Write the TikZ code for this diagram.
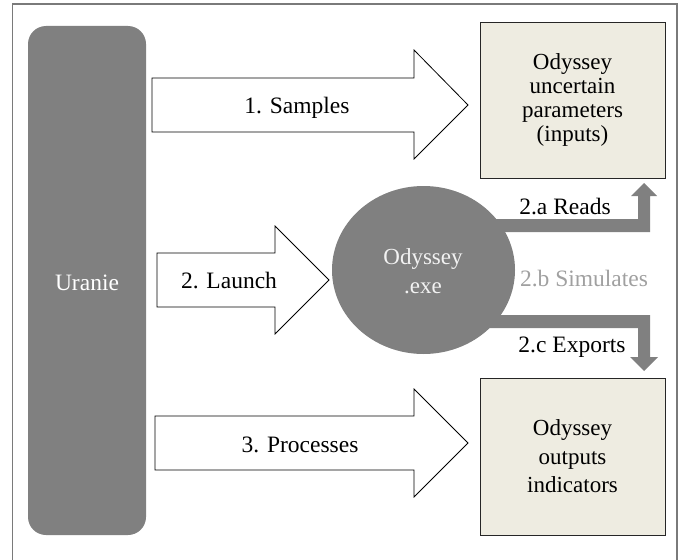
\documentclass[tikz,border=0pt]{standalone}
\usepackage{fontspec}
\setmainfont{Liberation Serif}
\usetikzlibrary{shapes.geometric}
\definecolor{ugray}{HTML}{808080}
\definecolor{boxfill}{HTML}{EEECE1}
\definecolor{framegray}{HTML}{7A7A7A}
\definecolor{simgray}{HTML}{A0A0A0}
\begin{document}
\begin{tikzpicture}[x=1pt,y=-1pt,
  txt/.style={font=\fontsize{23.5}{26}\selectfont, inner sep=0pt, align=center},
  blockarrow/.style={draw=black, line width=0.8pt, fill=white, line join=miter},
  graybar/.style={fill=ugray, draw=none},
  databox/.style={draw=black!85, line width=0.9pt, fill=boxfill, minimum width=185, minimum height=156, inner sep=0pt, align=center, font=\fontsize{23}{24.3}\selectfont}
]
\useasboundingbox (0,0) rectangle (687,559);
% frame
\draw[framegray, line width=1.5pt] (12.5,565) -- (12.5,4) -- (677,4) -- (677,565);
% Uranie
\node[fill=ugray, rounded corners=18pt, minimum width=118, minimum height=509, inner sep=0pt] (uranie) at (87,280.5) {};
\node[txt, text=white] (uranietxt) at (87,283) {Uranie};
% boxes
\node[databox] (inputs) at (572.5,100) {Odyssey\\uncertain\\parameters\\(inputs)};
\node[databox, minimum height=157, font=\fontsize{23}{28.5}\selectfont] (outputs) at (572.5,456.5) {Odyssey\\outputs\\indicators};
% gray bars
\path[graybar] (470,219) -- (638,219) -- (638,196) -- (631,196) -- (644,183) -- (657,196) -- (650,196) -- (650,232) -- (470,232) -- cycle;
\path[graybar] (470,315) -- (650,315) -- (650,357) -- (658,357) -- (644,371) -- (630,357) -- (638,357) -- (638,328) -- (470,328) -- cycle;
% Odyssey.exe
\node[ellipse, fill=ugray, minimum width=183, minimum height=168, inner sep=0pt] (exe) at (423.5,270) {};
\node[txt, text=white!95!black, font=\fontsize{23}{29}\selectfont] (exetxt) at (423,271.5) {Odyssey\\.exe};
% block arrows
\draw[blockarrow] (152,78) -- (414,78) -- (414,50) -- (468,105) -- (414,159) -- (414,132) -- (152,132) -- cycle;
\draw[blockarrow] (157,253) -- (275,253) -- (275,226) -- (329,280) -- (275,334) -- (275,307) -- (157,307) -- cycle;
\draw[blockarrow] (155,416) -- (414,416) -- (414,389) -- (468,443) -- (414,497) -- (414,470) -- (155,470) -- cycle;
% labels
\node[txt] (l1) at (297,108) {1. Samples};
\node[txt] (l2) at (229,281) {2. Launch};
\node[txt] (l3) at (300,445) {3. Processes};
\node[txt] (l2a) at (565,207) {2.a Reads};
\node[txt, text=simgray] (l2b) at (584,279) {2.b Simulates};
\node[txt] (l2c) at (572,347) {2.c Exports};
\end{tikzpicture}
\end{document}
